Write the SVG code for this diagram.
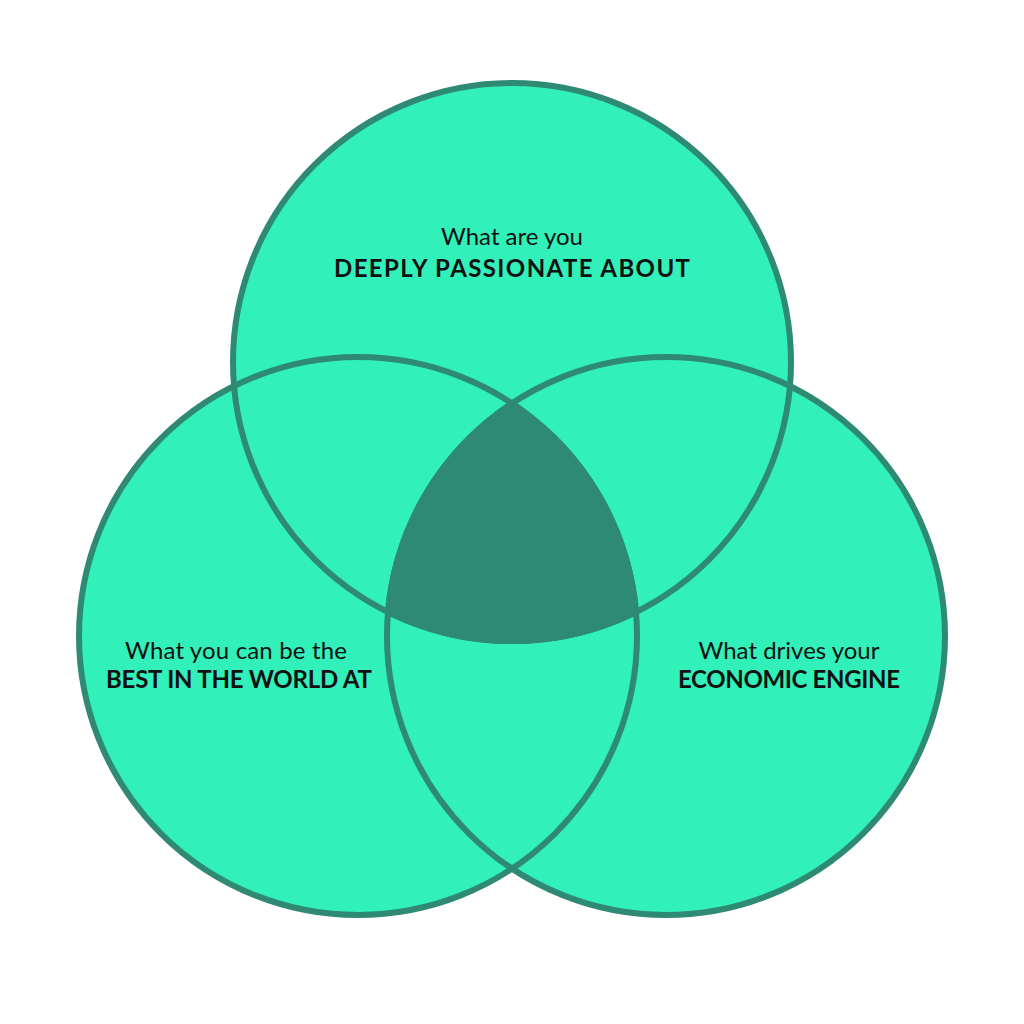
<svg xmlns="http://www.w3.org/2000/svg" width="1024" height="1024" viewBox="0 0 1024 1024">
<style>
.fill{fill:#32F0B9;stroke:none}
.ring{fill:none;stroke:#2E8A74;stroke-width:6}
.core{fill:#2E8A74;stroke:#2E8A74;stroke-width:6;stroke-linejoin:round}
.t1{font-family:Lato,"Noto Sans",sans-serif;font-size:24px;fill:#111;text-anchor:middle}
.t2{font-family:Lato,"Noto Sans",sans-serif;font-size:24px;font-weight:700;fill:#111;text-anchor:middle}
</style>
<rect width="1024" height="1024" fill="#fff"/>
<g id="fills">
<circle class="fill" cx="512" cy="362" r="279"/>
<circle class="fill" cx="358" cy="636" r="279"/>
<circle class="fill" cx="666" cy="636" r="279"/>
</g>
<g id="outlines">
<circle class="ring" cx="512" cy="362" r="279"/>
<circle class="ring" cx="358" cy="636" r="279"/>
<circle class="ring" cx="666" cy="636" r="279"/>
</g>
<g id="center">
<path class="core" d="M512,403.4 A279,279 0 0 0 388,612 A279,279 0 0 0 636,612 A279,279 0 0 0 512,403.4 Z"/>
</g>
<g id="passion">
<text class="t1" x="512" y="245" textLength="142">What are you</text>
<text class="t2" x="512" y="277" textLength="356">DEEPLY PASSIONATE ABOUT</text>
</g>
<g id="best">
<text class="t1" x="236" y="659" textLength="222">What you can be the</text>
<text class="t2" x="239" y="688" textLength="266">BEST IN THE WORLD AT</text>
</g>
<g id="economic">
<text class="t1" x="789" y="659" textLength="181">What drives your</text>
<text class="t2" x="789" y="688" textLength="222">ECONOMIC ENGINE</text>
</g>
</svg>
